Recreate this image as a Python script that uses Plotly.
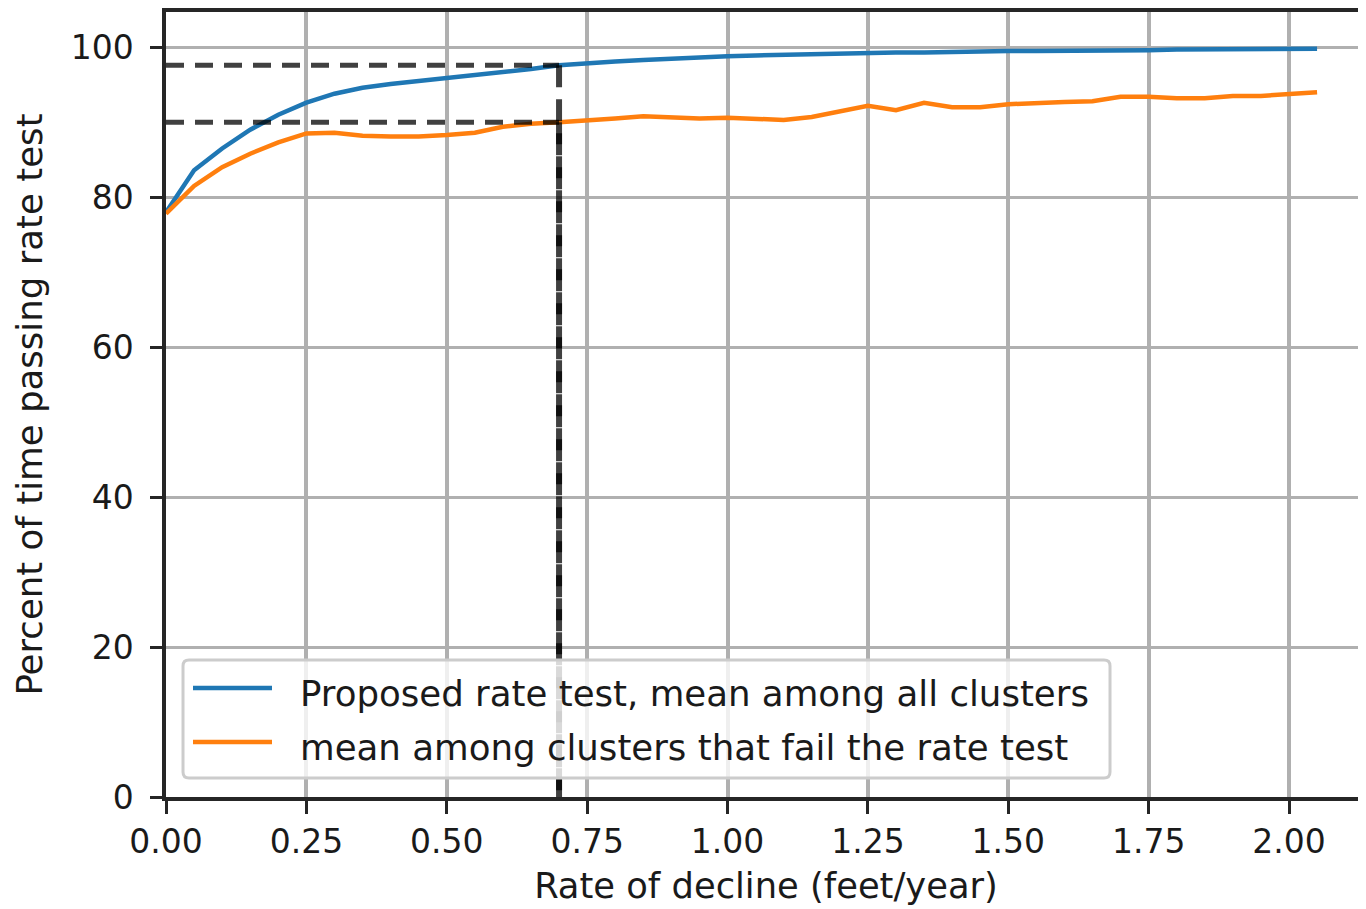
import plotly.graph_objects as go

# ---- data ----
rate = [0.00, 0.05, 0.10, 0.15, 0.20, 0.25, 0.30, 0.35, 0.40, 0.45,
        0.50, 0.55, 0.60, 0.65, 0.70, 0.75, 0.80, 0.85, 0.90, 0.95,
        1.00, 1.05, 1.10, 1.15, 1.20, 1.25, 1.30, 1.35, 1.40, 1.45,
        1.50, 1.55, 1.60, 1.65, 1.70, 1.75, 1.80, 1.85, 1.90, 1.95,
        2.00, 2.05]

mean_all = [78.0, 83.6, 86.5, 89.0, 91.0, 92.6, 93.8, 94.6, 95.1, 95.5,
            95.8, 96.2, 96.6, 97.1, 97.6, 97.9, 98.1, 98.3, 98.5, 98.7,
            98.8, 98.9, 99.0, 99.1, 99.2, 99.2, 99.3, 99.3, 99.4, 99.4,
            99.5, 99.5, 99.5, 99.6, 99.6, 99.6, 99.7, 99.7, 99.7, 99.7,
            99.8, 99.8]

mean_fail = [77.8, 81.5, 84.0, 85.8, 87.3, 88.5, 88.6, 88.2, 88.1, 88.1,
             88.3, 88.6, 89.4, 89.8, 90.0, 90.2, 90.5, 90.8, 90.6, 90.5,
             90.6, 90.4, 90.3, 90.7, 91.4, 92.2, 91.6, 92.6, 92.0, 92.0,
             92.4, 92.6, 92.7, 92.8, 93.4, 93.4, 93.2, 93.2, 93.5, 93.5,
             93.8, 94.0]

threshold_rate = 0.70
threshold_all = 97.6
threshold_fail = 90.0

x_ticks = [0.00, 0.25, 0.50, 0.75, 1.00, 1.25, 1.50, 1.75, 2.00]
x_ticklabels = ["0.00", "0.25", "0.50", "0.75", "1.00", "1.25", "1.50", "1.75", "2.00"]
y_ticks = [0, 20, 40, 60, 80, 100]
y_ticklabels = ["0", "20", "40", "60", "80", "100"]

series_names = ["Proposed rate test, mean among all clusters",
                "mean among clusters that fail the rate test"]
BLUE = "#1f77b4"
ORANGE = "#ff7f0e"
GUIDE = "rgba(0,0,0,0.75)"

FONT = "DejaVu Sans"
OFF = 8  # default page body margin
W, H = 1366 - OFF, 909 - OFF
ML, MT = 158, 4
MR, MB = 0, 112
PW, PH = W - ML - MR, H - MT - MB

fig = go.Figure()

fig.add_trace(go.Scatter(x=rate, y=mean_all, mode="lines",
                         line=dict(color=BLUE, width=4.5), name=series_names[0],
                         showlegend=False))
fig.add_trace(go.Scatter(x=rate, y=mean_fail, mode="lines",
                         line=dict(color=ORANGE, width=4.5), name=series_names[1],
                         showlegend=False))

# dashed guide lines
for lvl in (threshold_all, threshold_fail):
    fig.add_trace(go.Scatter(x=[0, threshold_rate], y=[lvl, lvl],
                             mode="lines", showlegend=False, hoverinfo="skip",
                             line=dict(color=GUIDE, width=5, dash="18px,11px")))
    fig.add_trace(go.Scatter(x=[threshold_rate, threshold_rate], y=[lvl, 0],
                             mode="lines", showlegend=False, hoverinfo="skip",
                             line=dict(color=GUIDE, width=6, dash="22px,12px")))


def px2paper(px, py):
    # px, py are page pixel positions
    return (px - OFF - ML) / PW, (MT + PH - (py - OFF)) / PH


def P(px, py):
    x, y = px2paper(px, py)
    return f"{x:.5f},{y:.5f}"


# manual legend (matplotlib-like)
lx0, ly0, lx1, ly1, r = 183, 660, 1110, 778, 6
path = (f"M {P(lx0 + r, ly0)} L {P(lx1 - r, ly0)} Q {P(lx1, ly0)} {P(lx1, ly0 + r)} "
        f"L {P(lx1, ly1 - r)} Q {P(lx1, ly1)} {P(lx1 - r, ly1)} "
        f"L {P(lx0 + r, ly1)} Q {P(lx0, ly1)} {P(lx0, ly1 - r)} "
        f"L {P(lx0, ly0 + r)} Q {P(lx0, ly0)} {P(lx0 + r, ly0)} Z")
shapes = [dict(type="path", path=path, xref="paper", yref="paper",
               fillcolor="rgba(255,255,255,0.8)", line=dict(color="#cccccc", width=3),
               layer="above")]
annotations = []
for i, (name, col) in enumerate(zip(series_names, [BLUE, ORANGE])):
    yc = 688 + 54 * i
    x0, y0 = px2paper(193, yc)
    x1, _ = px2paper(272, yc)
    shapes.append(dict(type="line", xref="paper", yref="paper", x0=x0, x1=x1, y0=y0, y1=y0,
                       line=dict(color=col, width=4.5), layer="above"))
    tx, ty = px2paper(298, yc + 5)
    annotations.append(dict(text=name, xref="paper", yref="paper", x=tx, y=ty,
                            xanchor="left", yanchor="middle", showarrow=False,
                            font=dict(family=FONT, size=35.6, color="#1a1a1a")))

axis_common = dict(showline=True, linecolor="#262626", linewidth=3.5,
                   ticks="outside", tickcolor="#262626", tickwidth=3,
                   showgrid=True, gridcolor="#b0b0b0", zeroline=False,
                   tickfont=dict(family=FONT, size=33, color="#1a1a1a"),
                   automargin=False)

fig.update_layout(
    width=W, height=H, autosize=False,
    margin=dict(l=ML, r=MR, t=MT, b=MB, pad=0),
    paper_bgcolor="white", plot_bgcolor="white",
    showlegend=False,
    xaxis=dict(**axis_common, range=[0, PW / 561.5], tickvals=x_ticks, ticktext=x_ticklabels,
               ticklen=13, gridwidth=4, mirror=True,
               title=dict(text="Rate of decline (feet/year)", standoff=14,
                          font=dict(family=FONT, size=35.3, color="#1a1a1a"))),
    yaxis=dict(**axis_common, range=[0, 104.7], tickvals=y_ticks, ticktext=y_ticklabels,
               ticklen=12, gridwidth=3, ticklabelstandoff=10,
               title=dict(text="Percent of time passing rate test", standoff=18,
                          font=dict(family=FONT, size=35.6, color="#1a1a1a"))),
    shapes=shapes, annotations=annotations,
)

fig.write_html("out.html")
